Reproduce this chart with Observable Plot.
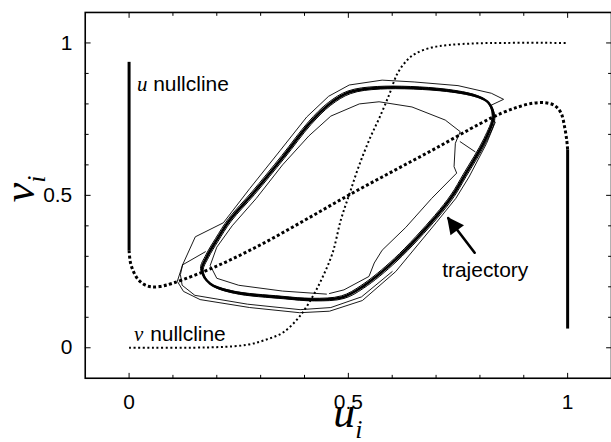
<!DOCTYPE html>
<html><head><meta charset="utf-8">
<script src="https://cdn.jsdelivr.net/npm/d3@7"></script>
<script src="https://cdn.jsdelivr.net/npm/@observablehq/plot@0.6"></script>
<style>
html,body{margin:0;padding:0;background:#fff;overflow:hidden;width:611px;height:442px}
#chart{position:relative;width:611px;height:442px;overflow:hidden}
</style></head><body><div id="chart"></div>
<script>
// ---- data ----
const majorTicks = [0, 0.5, 1];
const minorTicks = [0.1, 0.2, 0.3, 0.4, 0.6, 0.7, 0.8, 0.9];
const tickLabels = ["0", "0.5", "1"];

// u nullcline: left vertical branch, middle (dashed) branch, right vertical branch
const uNullLeft = [[0, 0.938], [0, 0.32]];
const uNullMiddle = [[0, 0.32], [0.003, 0.28], [0.01, 0.25], [0.02, 0.225], [0.035, 0.207], [0.05, 0.2],
  [0.07, 0.201], [0.1, 0.212], [0.2, 0.268], [0.3, 0.338], [0.4, 0.418], [0.5, 0.5], [0.6, 0.578],
  [0.7, 0.655], [0.8, 0.735], [0.85, 0.77], [0.887, 0.79], [0.92, 0.802], [0.948, 0.804], [0.97, 0.795],
  [0.985, 0.77], [0.993, 0.725], [0.998, 0.68], [1, 0.65]];
const uNullRight = [[1, 0.65], [1, 0.063]];

// v nullcline (sigmoid, fine dots)
const vNull = [[0, 0], [0.2, 0.002], [0.27, 0.01], [0.313, 0.027], [0.351, 0.05], [0.389, 0.103],
  [0.419, 0.169], [0.442, 0.234], [0.464, 0.311], [0.483, 0.42], [0.503, 0.507], [0.525, 0.6],
  [0.55, 0.69], [0.571, 0.755], [0.593, 0.83], [0.612, 0.9], [0.635, 0.945], [0.654, 0.966],
  [0.69, 0.985], [0.728, 0.993], [0.8, 0.999], [1, 1]];

// limit cycle (thick bundle)
const cycle = [[0.166, 0.256], [0.185, 0.21], [0.237, 0.183], [0.35, 0.165], [0.42, 0.158], [0.487, 0.166],
  [0.532, 0.2], [0.608, 0.289], [0.7, 0.43], [0.738, 0.5], [0.765, 0.565], [0.812, 0.682], [0.831, 0.757],
  [0.82, 0.803], [0.797, 0.823], [0.721, 0.845], [0.57, 0.853], [0.502, 0.838], [0.457, 0.80],
  [0.412, 0.737], [0.351, 0.626], [0.283, 0.507], [0.23, 0.42], [0.2, 0.354], [0.178, 0.3]];

// transient trajectory pieces (thin)
const innerPath = [[0.457, 0.178], [0.49, 0.19], [0.547, 0.234], [0.559, 0.278], [0.577, 0.32], [0.631, 0.395],
  [0.69, 0.49], [0.747, 0.573], [0.741, 0.594], [0.744, 0.671], [0.755, 0.709], [0.721, 0.747], [0.645, 0.79],
  [0.57, 0.807], [0.525, 0.80], [0.46, 0.76], [0.41, 0.695], [0.35, 0.6], [0.29, 0.49], [0.235, 0.4],
  [0.2, 0.33], [0.185, 0.27], [0.2, 0.228], [0.25, 0.205], [0.35, 0.186], [0.45, 0.176]];
const diagPath = [[0.755, 0.676], [0.789, 0.643]];
const outerPath = [[0.826, 0.796], [0.854, 0.815], [0.826, 0.835], [0.75, 0.86], [0.65, 0.872], [0.577, 0.878],
  [0.502, 0.862], [0.455, 0.825], [0.405, 0.757], [0.345, 0.648], [0.275, 0.522], [0.215, 0.41], [0.151, 0.364],
  [0.122, 0.272], [0.11, 0.218], [0.124, 0.185], [0.162, 0.158], [0.275, 0.132], [0.389, 0.115], [0.457, 0.12],
  [0.532, 0.155], [0.608, 0.25], [0.7, 0.41], [0.745, 0.49], [0.775, 0.56], [0.815, 0.67], [0.835, 0.74]];
const outerPath2 = [[0.122, 0.272], [0.117, 0.24], [0.121, 0.205], [0.15, 0.172], [0.27, 0.143], [0.39, 0.125],
  [0.46, 0.132], [0.53, 0.167], [0.6, 0.25]];
const branchPath = [[0.122, 0.272], [0.174, 0.315]];

// arrow (tail -> tip)
const arrowLine = [[0.788, 0.312], [0.728, 0.425]];
const arrowTip = [[0.725, 0.43]];

// labels
const labels = [
  {u: 0.018, v: 0.865, text: "u", italic: true},
  {u: 0.055, v: 0.865, text: "nullcline", italic: false},
  {u: 0.011, v: 0.045, text: "v", italic: true},
  {u: 0.048, v: 0.045, text: "nullcline", italic: false},
  {u: 0.714, v: 0.255, text: "trajectory", italic: false}
];

// ---- chart ----
const tickShape = {draw(context, l) { context.moveTo(0, 0); context.lineTo(0, -l); }};
const headShape = {draw(context) { context.moveTo(0, 0); context.lineTo(-8.5, 17); context.lineTo(8.5, 17); context.closePath(); }};

const sans = "Liberation Sans, Arial, Helvetica, sans-serif";
const serif = "Liberation Serif, Times New Roman, serif";

const tickMarks = (vals, len) => [
  Plot.vectorX(vals, {x: d => d, frameAnchor: "bottom", length: len, rotate: 0, anchor: "start", shape: tickShape, stroke: "black", strokeWidth: 1}),
  Plot.vectorX(vals, {x: d => d, frameAnchor: "top", length: len, rotate: 180, anchor: "start", shape: tickShape, stroke: "black", strokeWidth: 1}),
  Plot.vectorY(vals, {y: d => d, frameAnchor: "left", length: len, rotate: 90, anchor: "start", shape: tickShape, stroke: "black", strokeWidth: 1}),
  Plot.vectorY(vals, {y: d => d, frameAnchor: "right", length: len, rotate: -90, anchor: "start", shape: tickShape, stroke: "black", strokeWidth: 1})
];

const chart = Plot.plot({
  width: 613, height: 442,
  marginLeft: 85, marginRight: 0, marginTop: 12, marginBottom: 63,
  x: {domain: [-0.1, 1.1]},
  y: {domain: [-0.1, 1.1]},
  style: {fontFamily: sans, fontSize: "21px", background: "white", color: "black", overflow: "visible"},
  marks: [
    Plot.axisX(majorTicks, {tickSize: 0, tickPadding: 16, tickFormat: (d, i) => tickLabels[i], label: null, fontSize: 21}),
    Plot.axisY(majorTicks, {tickSize: 0, tickPadding: 13, tickFormat: (d, i) => tickLabels[i], label: null, fontSize: 21}),
    ...tickMarks(majorTicks, 5),
    ...tickMarks(minorTicks, 3),
    // v nullcline
    Plot.line(vNull, {curve: "catmull-rom", stroke: "black", strokeWidth: 2, strokeDasharray: "2 2.6", strokeLinecap: "butt"}),
    // u nullcline
    Plot.line(uNullLeft, {stroke: "black", strokeWidth: 3, strokeLinecap: "butt"}),
    Plot.line(uNullMiddle, {curve: "catmull-rom", stroke: "black", strokeWidth: 3, strokeDasharray: "3 2.4", strokeLinecap: "butt"}),
    Plot.line(uNullRight, {stroke: "black", strokeWidth: 3, strokeLinecap: "butt"}),
    // trajectory
    Plot.line(outerPath, {stroke: "black", strokeWidth: 0.9}),
    Plot.line(outerPath2, {stroke: "black", strokeWidth: 0.9}),
    Plot.line(branchPath, {stroke: "black", strokeWidth: 0.9}),
    Plot.line(innerPath, {stroke: "black", strokeWidth: 0.9}),
    Plot.line(diagPath, {stroke: "black", strokeWidth: 0.9}),
    Plot.line(cycle, {curve: "catmull-rom-closed", stroke: "black", strokeWidth: 1, dx: 1.3, dy: 1.3}),
    Plot.line(cycle, {curve: "catmull-rom-closed", stroke: "black", strokeWidth: 1, dx: -1.3, dy: -1.3}),
    Plot.line(cycle, {curve: "catmull-rom-closed", stroke: "black", strokeWidth: 2.6}),
    // arrow
    Plot.line(arrowLine, {stroke: "black", strokeWidth: 2.6}),
    Plot.dot(arrowTip, {symbol: headShape, fill: "black", stroke: "none", rotate: -37, r: 8}),
    // labels
    Plot.text(labels.filter(d => d.italic), {x: "u", y: "v", text: "text", textAnchor: "start", fontFamily: serif, fontStyle: "italic", fontSize: 21}),
    Plot.text(labels.filter(d => !d.italic), {x: "u", y: "v", text: "text", textAnchor: "start", fontFamily: sans, fontSize: 21}),
    Plot.frame({stroke: "black", strokeWidth: 1.6})
  ]
});

document.getElementById("chart").appendChild(chart);

// axis titles with subscripts
const svg = d3.select(chart);
const xs = chart.scale("x"), ys = chart.scale("y");
const xt = svg.append("text")
  .attr("x", xs.apply(0.5)).attr("y", 428)
  .attr("text-anchor", "middle")
  .attr("font-family", serif).attr("font-style", "italic").attr("font-size", 44).attr("fill", "black");
xt.append("tspan").text("u");
xt.append("tspan").attr("font-size", 26).attr("dy", 11).text("i");
const yt = svg.append("text")
  .attr("transform", `translate(34,${ys.apply(0.5) - 6}) rotate(-90)`)
  .attr("text-anchor", "middle")
  .attr("font-family", serif).attr("font-style", "italic").attr("font-size", 44).attr("fill", "black");
yt.append("tspan").text("v");
yt.append("tspan").attr("font-size", 26).attr("dy", 11).text("i");
</script></body></html>
